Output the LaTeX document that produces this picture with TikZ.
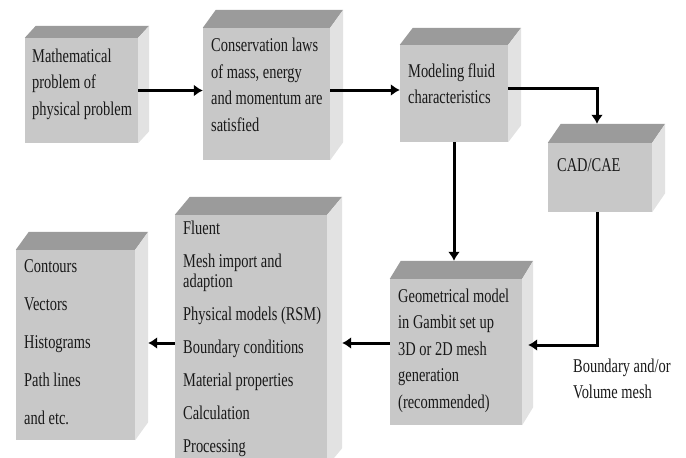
\documentclass[tikz,border=0pt]{standalone}
\usepackage{fontspec}
\setmainfont{Liberation Serif}
\usepackage{graphicx}
\usepackage{tikz}
\usetikzlibrary{arrows.meta, positioning, calc}
\definecolor{frontgray}{RGB}{200,200,200}
\definecolor{topgray}{RGB}{155,155,155}
\definecolor{sidegray}{RGB}{226,226,226}
\definecolor{inkgray}{RGB}{25,25,25}
\newcommand{\boxlines}[1]{\scalebox{0.74}[1]{\begin{tabular}{@{}l@{}}#1\end{tabular}}}
\newcommand{\cubedepth}[3]{%
    \fill[topgray] (#1.north west) -- ++(#2pt,#3pt)
        -- ([shift={(#2pt,#3pt)}]#1.north east) -- (#1.north east) -- cycle;
    \fill[sidegray] (#1.north east) -- ++(#2pt,#3pt)
        -- ([shift={(#2pt,#3pt)}]#1.south east) -- (#1.south east) -- cycle;
}
\tikzset{
    face/.style={
        rectangle, fill=frontgray, inner sep=0pt,
    },
    txt/.style={
        anchor=west, inner sep=0pt, text=inkgray,
        font=\fontsize{19.5}{26.5}\selectfont,
    },
    arr/.style={
        -{Latex[length=9pt, width=12pt]}, line width=3pt, color=black
    },
}

\begin{document}
\begin{tikzpicture}[x=1pt, y=-1pt]
    \useasboundingbox (0,0) rectangle (686,458);

    % ── Top row ──
    \node[face, minimum width=113pt, minimum height=105pt] (math)  at (81.5, 90.5) {};
    \node[face, minimum width=127pt, minimum height=132pt] (cons)  at (266.5, 94)  {};
    \node[face, minimum width=108pt, minimum height=97pt]  (model) at (454, 93.5)  {};
    \cubedepth{math}{11}{12}
    \cubedepth{cons}{13}{18}
    \cubedepth{model}{13}{17}

    % ── CAD/CAE ──
    \node[face, minimum width=104pt, minimum height=69pt] (cad) at (600, 177.5) {};
    \cubedepth{cad}{13}{19}

    % ── Bottom row ──
    \node[face, minimum width=132pt, minimum height=146pt] (geom)     at (456, 352)   {};
    \node[face, minimum width=152pt, minimum height=251pt] (fluent)   at (251, 340.5) {};
    \node[face, minimum width=119pt, minimum height=190pt] (contours) at (75.5, 345)  {};
    \cubedepth{geom}{11}{18}
    \cubedepth{fluent}{15}{18}
    \cubedepth{contours}{13}{18}

    % ── Texts ──
    \node[txt] (mathtxt)  at (32, 83.5) {\boxlines{Mathematical\\problem of\\physical problem}};
    \node[txt] (constxt)  at (211, 86)  {\boxlines{Conservation laws\\of mass, energy\\and momentum are\\satisfied}};
    \node[txt] (modeltxt) at (408, 85)  {\boxlines{Modeling fluid\\characteristics}};
    \node[txt] (cadtxt)   at (557, 166) {\boxlines{CAD/CAE}};
    \node[txt] (geomtxt)  at (398, 350) {\boxlines{Geometrical model\\in Gambit set up\\3D or 2D mesh\\generation\\(recommended)}};
    \node[txt, font=\fontsize{19.5}{33}\selectfont] (fluenttxt) at (183, 337)
        {\boxlines{Fluent\\Mesh import and\\[-13pt]adaption\\Physical models (RSM)\\Boundary conditions\\Material properties\\Calculation\\Processing}};
    \node[txt, font=\fontsize{19.5}{38}\selectfont] (contourstxt) at (24, 341)
        {\boxlines{Contours\\Vectors\\Histograms\\Path lines\\and etc.}};
    \node[txt, font=\fontsize{19.5}{26}\selectfont] (meshtxt) at (573, 380)
        {\boxlines{Boundary and/or\\Volume mesh}};

    % ── Arrows ──
    \draw[arr] (math.east) -- (math.east -| cons.west);
    \draw[arr] ($(cons.east)+(0,-4)$) -- ($(cons.east -| model.west)+(0,-4)$);
    \draw[arr] ($(model.east)+(0,-5.5)$) -| ($(cad.north)+(-3,-19)$);
    \draw[arr] (model.south) -- ($(model.south |- geom.north)+(0,-18)$);
    \draw[arr] ($(cad.south)+(-3,0)$) |- ($(geom.east)+(6,-7)$);
    \draw[arr] ($(geom.west)+(0,-9)$) -- ($(fluent.east |- geom.west)+(15,-9)$);
    \draw[arr] ($(fluent.west)+(0,2.5)$) -- ($(contours.east |- fluent.west)+(13,2.5)$);

\end{tikzpicture}
\end{document}
